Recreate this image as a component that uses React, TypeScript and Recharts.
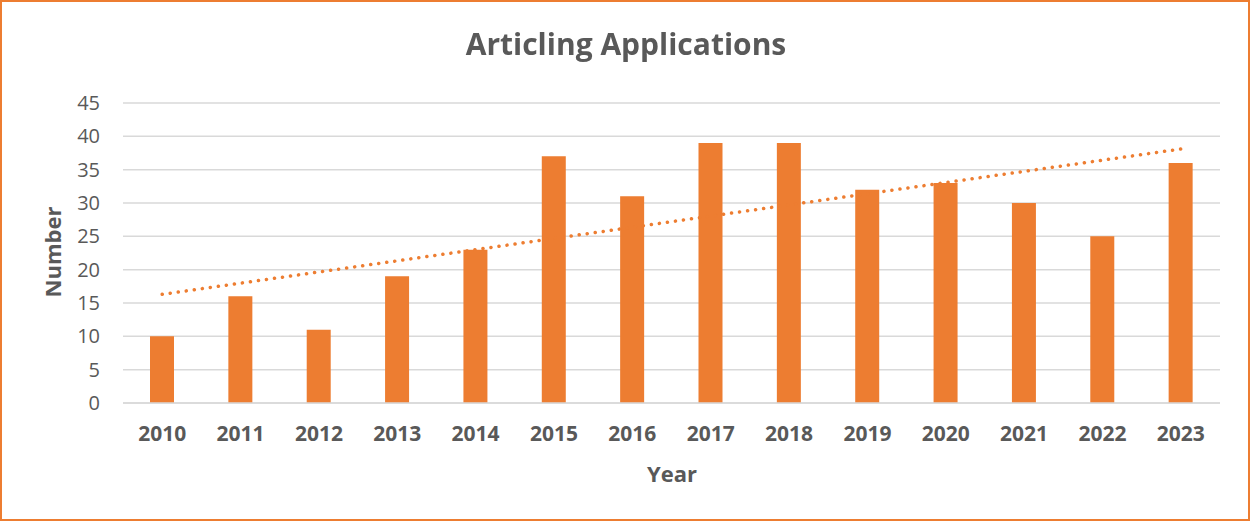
import { ComposedChart, Bar, Line, XAxis, YAxis, CartesianGrid } from "recharts";

const years = ["2010", "2011", "2012", "2013", "2014", "2015", "2016", "2017", "2018", "2019", "2020", "2021", "2022", "2023"];
const applications = [10, 16, 11, 19, 23, 37, 31, 39, 39, 32, 33, 30, 25, 36];
// linear trendline ends (only first and last points drawn)
const trendline = [16.3, null, null, null, null, null, null, null, null, null, null, null, null, 38.1];
const yTicks = [0, 5, 10, 15, 20, 25, 30, 35, 40, 45];

const ORANGE = "#ED7D31";
const TEXT = "#595959";
const FONT = "'Open Sans', sans-serif";

const data = years.map((year, i) => ({
  year,
  value: applications[i],
  trend: trendline[i],
}));

export default function App() {
  return (
    <div
      style={{
        position: "fixed",
        left: 0,
        top: 0,
        width: 1250,
        height: 521,
        background: "#fff",
        fontFamily: FONT,
      }}
    >
      <ComposedChart
        width={1250}
        height={521}
        data={data}
        margin={{ top: 103, right: 30, left: 0, bottom: 0 }}
        barCategoryGap={0}
      >
        <CartesianGrid vertical={false} stroke="#d9d9d9" strokeWidth={1.5} />
        <XAxis
          dataKey="year"
          height={118}
          axisLine={{ stroke: "#d9d9d9", strokeWidth: 1.5 }}
          tickLine={false}
          tickSize={0}
          tickMargin={23}
          tick={{ fill: TEXT, fontSize: 21, fontWeight: 700, fontFamily: FONT }}
        />
        <YAxis
          width={123}
          domain={[0, 45]}
          ticks={yTicks}
          axisLine={false}
          tickLine={false}
          tickSize={0}
          tickMargin={23}
          tick={{ fill: TEXT, fontSize: 20, fontFamily: FONT }}
        />
        <Bar dataKey="value" fill={ORANGE} barSize={24} isAnimationActive={false} />
        <Line
          dataKey="trend"
          connectNulls
          dot={false}
          stroke={ORANGE}
          strokeWidth={3.5}
          strokeDasharray="0.1 8"
          strokeLinecap="round"
          isAnimationActive={false}
        />
      </ComposedChart>

      <div
        style={{
          position: "absolute",
          left: 0,
          width: 1252,
          top: 23,
          textAlign: "center",
          fontSize: 30,
          fontWeight: 700,
          color: TEXT,
        }}
      >
        Articling Applications
      </div>
      <div
        style={{
          position: "absolute",
          left: 572,
          width: 200,
          top: 458,
          textAlign: "center",
          fontSize: 22,
          fontWeight: 700,
          color: TEXT,
        }}
      >
        Year
      </div>
      <div
        style={{
          position: "absolute",
          left: -48,
          top: 237,
          width: 200,
          textAlign: "center",
          fontSize: 22,
          fontWeight: 700,
          color: TEXT,
          transform: "rotate(-90deg)",
        }}
      >
        Number
      </div>
      <div
        style={{
          position: "absolute",
          left: 0,
          top: 0,
          width: 1250,
          height: 521,
          boxSizing: "border-box",
          border: `2px solid ${ORANGE}`,
          pointerEvents: "none",
        }}
      />
    </div>
  );
}
